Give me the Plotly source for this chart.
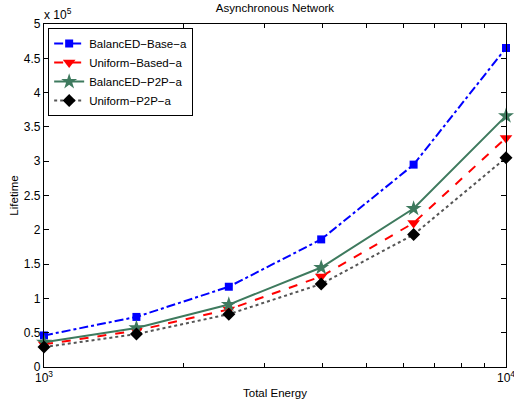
import plotly.graph_objects as go

energy = [1000, 1585, 2512, 3981, 6310, 10000]
balanced_base = [0.46, 0.73, 1.17, 1.86, 2.95, 4.65]
uniform_based = [0.33, 0.53, 0.84, 1.32, 2.10, 3.34]
balanced_p2p = [0.36, 0.57, 0.91, 1.45, 2.31, 3.66]
uniform_p2p = [0.29, 0.48, 0.77, 1.21, 1.93, 3.05]
scale = 1e5

names = ["BalancED−Base−a", "Uniform−Based−a", "BalancED−P2P−a", "Uniform−P2P−a"]
y_ticks = [0, 0.5, 1, 1.5, 2, 2.5, 3, 3.5, 4, 4.5, 5]
y_ticktext = ["0", "0.5", "1", "1.5", "2", "2.5", "3", "3.5", "4", "4.5", "5"]
x_ticks = [1000, 10000]
x_ticktext = ["10<sup>3</sup>", "10<sup>4</sup>"]
x_minor = [2000, 3000, 4000, 5000, 6000, 7000, 8000, 9000]

FONT = "Liberation Sans, Arial, sans-serif"
green = "#3e7a5e"

fig = go.Figure()
fig.add_trace(go.Scatter(x=energy, y=[v * scale for v in balanced_base], name=names[0],
                         mode="lines+markers", cliponaxis=False,
                         line=dict(color="#0000ff", width=2, dash="dashdot"),
                         marker=dict(symbol="square", size=8, color="#0000ff")))
fig.add_trace(go.Scatter(x=energy, y=[v * scale for v in uniform_based], name=names[1],
                         mode="lines+markers", cliponaxis=False,
                         line=dict(color="#ff0000", width=2, dash="dash"),
                         marker=dict(symbol="triangle-down", size=11, color="#ff0000")))
fig.add_trace(go.Scatter(x=energy, y=[v * scale for v in balanced_p2p], name=names[2],
                         mode="lines+markers", cliponaxis=False,
                         line=dict(color=green, width=2, dash="solid"),
                         marker=dict(symbol="star", size=12, color=green)))
fig.add_trace(go.Scatter(x=energy, y=[v * scale for v in uniform_p2p], name=names[3],
                         mode="lines+markers", cliponaxis=False,
                         line=dict(color="#555555", width=2, dash="dot"),
                         marker=dict(symbol="diamond", size=10, color="#000000")))

fig.update_layout(
    width=514, height=402,
    margin=dict(l=44, r=8, t=24, b=35, autoexpand=False),
    paper_bgcolor="white", plot_bgcolor="white",
    font=dict(family=FONT, size=12, color="black"),
    title=dict(text="Asynchronous Network", x=0.535, xanchor="center", y=0.99, yanchor="top",
               font=dict(size=11.5)),
    showlegend=True,
    legend=dict(x=0.009, y=0.988, xanchor="left", yanchor="top",
                bordercolor="black", borderwidth=1, bgcolor="white",
                font=dict(size=11.5), itemwidth=30, tracegroupgap=0),
    xaxis=dict(type="log", range=[2.99999, 4.00001], tickmode="array", tickvals=x_ticks,
               ticktext=x_ticktext, ticklabeloverflow="allow", automargin=False,
               ticks="inside", ticklen=5, tickcolor="black", showgrid=False, zeroline=False,
               showline=True, linecolor="black", linewidth=1, mirror="ticks",
               minor=dict(tickmode="array", tickvals=x_minor, ticks="inside", ticklen=4,
                          tickcolor="black", showgrid=False),
               title=dict(text="Total Energy", font=dict(size=11.5), standoff=4),
               tickfont=dict(size=12)),
    yaxis=dict(range=[0, 5 * scale], tickmode="array", tickvals=[v * scale for v in y_ticks],
               ticktext=y_ticktext, ticks="inside", ticklen=5, tickcolor="black",
               showgrid=False, zeroline=False, showline=True, linecolor="black", linewidth=1.2,
               mirror="ticks", automargin=False,
               title=dict(text="Lifetime", font=dict(size=11.5), standoff=2),
               tickfont=dict(size=12)),
)
fig.add_annotation(x=0, y=1, xref="paper", yref="paper", xanchor="left", yanchor="bottom",
                   text="x 10<sup>5</sup>", showarrow=False, font=dict(size=12), xshift=-2, yshift=0)

fig.write_html("out.html", config={"displayModeBar": False},
               post_script="document.body.style.margin='0';document.body.style.overflow='hidden';")
